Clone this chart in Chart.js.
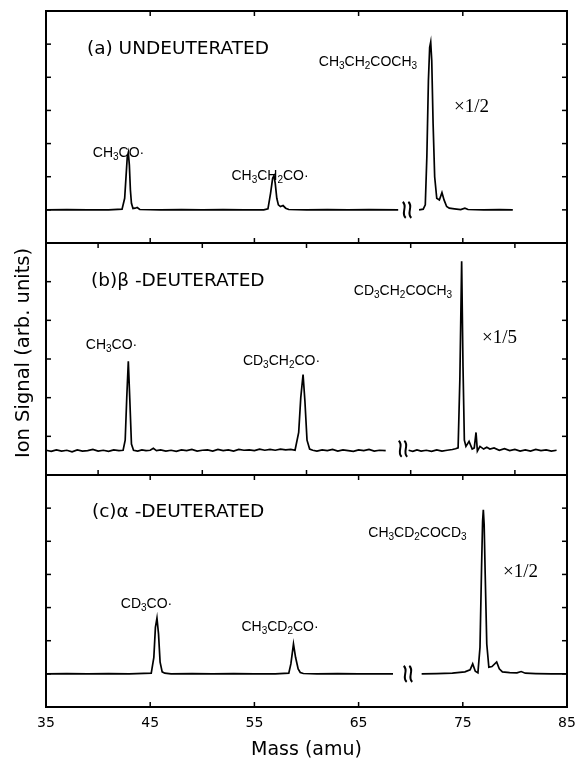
<!DOCTYPE html>
<html>
<head>
<meta charset="utf-8">
<script src="https://cdn.jsdelivr.net/npm/chart.js@4.4.0/dist/chart.umd.min.js"></script>
<style>
  html, body { margin: 0; padding: 0; background: #fff; }
  #wrap { width: 584px; height: 761px; }
</style>
</head>
<body>
<div id="wrap"><canvas id="massSpectraChart" width="584" height="761"></canvas></div>
<script>
// (a) undeuterated - masses (amu) and ion signal (tick units, baseline 0)
var massA = [
  35, 37, 39, 41, 42.3, 42.55, 42.7, 42.8, 42.9, 43.0,
  43.1, 43.2, 43.35, 43.55, 43.75, 44, 46, 48, 50, 52,
  54, 55.9, 56.3, 56.55, 56.75, 56.88, 57.0, 57.15, 57.3, 57.5,
  57.75, 58.0, 58.3, 60, 62, 64, 66, 68.8, 69.8, 70.8,
  71.2, 71.4, 71.55, 71.7, 71.82, 71.92, 72.02, 72.15, 72.3, 72.5,
  72.75, 73.0, 73.2, 73.45, 73.7, 74.2, 74.8, 75.2, 75.5, 77,
  78.5, 79.8
];
var ionA = [
  0, 0.01, 0, 0, 0.02, 0.35, 1.1, 1.6, 1.73, 1.35,
  0.6, 0.2, 0.04, 0.05, 0.07, 0.01, 0, 0.01, 0, 0.01,
  0, 0, 0.03, 0.5, 0.95, 1.03, 0.8, 0.35, 0.15, 0.1,
  0.13, 0.05, 0.01, 0, 0.01, 0, 0.01, 0, null, 0,
  0.02, 0.15, 1.6, 3.9, 4.9, 5.06, 4.5, 2.6, 1.0, 0.35,
  0.3, 0.52, 0.3, 0.1, 0.05, 0.03, 0.01, 0.05, 0.01, 0,
  0.01, 0
];

// (b) beta-deuterated
var massB = [
  35, 35.5, 36, 36.5, 37, 37.5, 38, 38.5, 39, 39.5,
  40, 40.5, 41, 41.5, 42, 42.4, 42.6, 42.75, 42.9, 43.05,
  43.2, 43.4, 43.8, 44.2, 44.6, 45, 45.3, 45.6, 46, 46.5,
  47, 47.5, 48, 48.5, 49, 49.5, 50, 50.5, 51, 51.5,
  52, 52.5, 53, 53.5, 54, 54.5, 55, 55.5, 56, 56.5,
  57, 57.5, 58, 58.5, 58.9, 59.25, 59.45, 59.67, 59.85, 60.05,
  60.3, 60.6, 61, 61.5, 62, 62.5, 63, 63.5, 64, 64.5,
  65, 65.5, 66, 66.5, 67, 67.6, 68.6, 69.8, 70.2, 70.6,
  71, 71.5, 72, 72.5, 73, 73.5, 74, 74.3, 74.55, 74.72,
  74.89, 75.02, 75.15, 75.3, 75.6, 75.9, 76.1, 76.27, 76.4, 76.65,
  77, 77.3, 77.6, 78, 78.5, 79, 79.5, 80, 80.5, 81,
  81.5, 82, 82.5, 83, 83.5, 84
];
var ionB = [
  -0.36, -0.39, -0.35, -0.38, -0.36, -0.40, -0.35, -0.38, -0.37, -0.34,
  -0.38, -0.36, -0.39, -0.35, -0.37, -0.36, -0.1, 1.0, 1.94, 0.9,
  -0.2, -0.36, -0.38, -0.35, -0.37, -0.36, -0.31, -0.37, -0.35, -0.38,
  -0.36, -0.39, -0.35, -0.37, -0.34, -0.38, -0.36, -0.35, -0.38, -0.34,
  -0.37, -0.35, -0.38, -0.34, -0.36, -0.35, -0.37, -0.33, -0.36, -0.34,
  -0.36, -0.33, -0.35, -0.34, -0.36, 0.1, 1.0, 1.6, 0.9, -0.1,
  -0.33, -0.36, -0.38, -0.35, -0.37, -0.34, -0.38, -0.35, -0.37, -0.39,
  -0.35, -0.37, -0.34, -0.38, -0.36, -0.37, null, -0.36, -0.39, -0.35,
  -0.38, -0.36, -0.39, -0.35, -0.38, -0.36, -0.34, -0.32, -0.30, 1.5,
  4.53, 1.8, -0.1, -0.26, -0.13, -0.33, -0.3, 0.1, -0.38, -0.26,
  -0.33, -0.28, -0.33, -0.30, -0.36, -0.32, -0.37, -0.34, -0.38, -0.35,
  -0.38, -0.34, -0.37, -0.35, -0.38, -0.36
];

// (c) alpha-deuterated
var massC = [
  35, 37, 39, 41, 43, 45.1, 45.35, 45.5, 45.65, 45.8,
  45.95, 46.15, 46.4, 47, 49, 51, 53, 55, 57, 58.3,
  58.5, 58.75, 58.95, 59.2, 59.4, 59.7, 61, 63, 65, 67,
  68.3, 69.7, 71.05, 72.5, 74, 75.2, 75.7, 75.95, 76.2, 76.45,
  76.65, 76.8, 76.9, 76.97, 77.05, 77.15, 77.3, 77.5, 77.8, 78.25,
  78.5, 78.8, 79.5, 80.2, 80.6, 81, 82, 83.5, 85
];
var ionC = [
  0, 0.01, 0, 0.01, 0, 0.02, 0.5, 1.4, 1.68, 1.2,
  0.35, 0.06, 0.02, 0, 0.01, 0, 0.01, 0, 0, 0.02,
  0.3, 0.9, 0.5, 0.15, 0.04, 0.01, 0, 0.01, 0, 0,
  0, null, 0, 0.01, 0.02, 0.06, 0.12, 0.3, 0.08, 0.03,
  0.8, 3.2, 4.6, 4.95, 4.5, 3.0, 0.9, 0.2, 0.22, 0.36,
  0.15, 0.06, 0.04, 0.03, 0.07, 0.02, 0.01, 0, 0
];

// tick marks inside each frame
var yTicksA = [0, 1, 2, 3, 4, 5];
var yTicksB = [0, 1, 2, 3, 4];
var yTicksC = [0, 1, 2, 3, 4, 5];
var xTicksAC = [45, 55, 65, 75];
var xTicksB = [40, 50, 60, 70, 80];

// axis break position (mass, level) per panel
var breakMass = [69.65, 69.26, 69.74];
var breakLevel = [0, -0.32, 0];

var panelTitles = ["(a) UNDEUTERATED", "(b)\u03b2 -DEUTERATED", "(c)\u03b1 -DEUTERATED"];
var scaleFactors = ["\u00d71/2", "\u00d71/5", "\u00d71/2"];

// peak labels: text, mass, level
var peakLabels = [
  [["CH3CO\u00b7", 41.96, 1.60], ["CH3CH2CO\u00b7", 56.5, 0.90], ["CH3CH2COCH3", 65.9, 4.34]],
  [["CH3CO\u00b7", 41.29, 2.25], ["CD3CH2CO\u00b7", 57.6, 1.84], ["CD3CH2COCH3", 69.26, 3.65]],
  [["CD3CO\u00b7", 44.65, 1.99], ["CH3CD2CO\u00b7", 57.46, 1.29], ["CH3CD2COCD3", 70.65, 4.13]]
];

var panels = [
  { axis: "yA", yTicks: yTicksA, xTicks: xTicksAC, titleAt: [38.93, 4.70], factorAt: [74.16, 2.95] },
  { axis: "yB", yTicks: yTicksB, xTicks: xTicksB, titleAt: [39.32, 3.89], factorAt: [76.84, 2.42] },
  { axis: "yC", yTicks: yTicksC, xTicks: xTicksAC, titleAt: [39.41, 4.73], factorAt: [78.86, 2.92] }
];

function toPoints(mass, ion) {
  return mass.map(function(m, i) { return { x: m, y: ion[i] }; });
}

function strokeLine(c, x1, y1, x2, y2) {
  c.beginPath();
  c.moveTo(x1, y1);
  c.lineTo(x2, y2);
  c.stroke();
}

// chemical formula with digits as subscripts
function drawFormula(c, text, px, py) {
  let parts = text.match(/\d+|\D+/g);
  let big = "14px 'Liberation Sans', Arial, sans-serif";
  let small = "10px 'Liberation Sans', Arial, sans-serif";
  let w = 0;
  parts.forEach(function(s) {
    c.font = /\d/.test(s) ? small : big;
    w += c.measureText(s).width;
  });
  let cx = px - w / 2;
  c.textAlign = "left";
  parts.forEach(function(s) {
    let sub = /\d/.test(s);
    c.font = sub ? small : big;
    c.fillText(s, cx, sub ? py + 3 : py);
    cx += c.measureText(s).width;
  });
}

function drawBreak(c, px, py) {
  c.lineWidth = 2;
  [-2.8, 2.8].forEach(function(dx) {
    let x = px + dx;
    c.beginPath();
    c.moveTo(x - 1.5, py - 8);
    c.bezierCurveTo(x + 4, py - 3.5, x - 4, py + 3.5, x + 1.5, py + 8);
    c.stroke();
  });
}

var framePlugin = {
  id: "panelFrames",
  afterDatasetsDraw: function(chart) {
    let c = chart.ctx;
    let area = chart.chartArea;
    let xs = chart.scales.x;
    c.save();
    c.strokeStyle = "#000";
    c.fillStyle = "#000";
    c.textBaseline = "alphabetic";

    panels.forEach(function(p, i) {
      let ys = chart.scales[p.axis];
      c.lineWidth = 2;
      c.strokeRect(area.left, ys.top, area.right - area.left, ys.bottom - ys.top);

      c.lineWidth = 1.5;
      p.yTicks.forEach(function(v) {
        let py = ys.getPixelForValue(v);
        strokeLine(c, area.left, py, area.left + 5, py);
        strokeLine(c, area.right - 5, py, area.right, py);
      });
      p.xTicks.forEach(function(m) {
        let px = xs.getPixelForValue(m);
        strokeLine(c, px, ys.top, px, ys.top + 5);
        strokeLine(c, px, ys.bottom - 5, px, ys.bottom);
      });

      drawBreak(c, xs.getPixelForValue(breakMass[i]), ys.getPixelForValue(breakLevel[i]));

      c.textAlign = "left";
      c.font = "18.5px 'DejaVu Sans', sans-serif";
      c.fillText(panelTitles[i], xs.getPixelForValue(p.titleAt[0]), ys.getPixelForValue(p.titleAt[1]));

      c.font = "19px 'Liberation Serif', 'Times New Roman', serif";
      c.fillText(scaleFactors[i], xs.getPixelForValue(p.factorAt[0]), ys.getPixelForValue(p.factorAt[1]));

      peakLabels[i].forEach(function(lb) {
        drawFormula(c, lb[0], xs.getPixelForValue(lb[1]), ys.getPixelForValue(lb[2]));
      });
    });

    // shared y title
    c.translate(29, (area.top + area.bottom) / 2 - 6);
    c.rotate(-Math.PI / 2);
    c.textAlign = "center";
    c.font = "19.5px 'DejaVu Sans', sans-serif";
    c.fillText("Ion Signal (arb. units)", 0, 0);
    c.restore();
  }
};

var lineStyle = { borderColor: "#000", borderWidth: 1.7, pointRadius: 0, tension: 0, spanGaps: false, fill: false };

let ctx = document.getElementById("massSpectraChart").getContext("2d");

// stacked y axes: the last one listed is placed on top
new Chart(ctx, {
  type: "line",
  data: {
    datasets: [
      Object.assign({ label: "undeuterated", data: toPoints(massA, ionA), yAxisID: "yA" }, lineStyle),
      Object.assign({ label: "beta-deuterated", data: toPoints(massB, ionB), yAxisID: "yB" }, lineStyle),
      Object.assign({ label: "alpha-deuterated", data: toPoints(massC, ionC), yAxisID: "yC" }, lineStyle)
    ]
  },
  options: {
    responsive: false,
    animation: false,
    layout: { padding: { left: 46, right: 17, top: 11, bottom: 0 } },
    plugins: {
      legend: { display: false },
      tooltip: { enabled: false }
    },
    scales: {
      x: {
        type: "linear",
        min: 35,
        max: 85,
        grid: { display: false, drawTicks: false },
        border: { display: false },
        ticks: { stepSize: 10, padding: 8, color: "#000", font: { family: "DejaVu Sans", size: 14 } },
        title: { display: true, text: "Mass (amu)", color: "#000", padding: { top: 0, bottom: 0 },
                 font: { family: "DejaVu Sans", size: 19 } },
        afterFit: function(scale) { scale.height = 54; }
      },
      yC: { type: "linear", min: -1, max: 6, display: false, position: "left", stack: "panels", stackWeight: 1 },
      yB: { type: "linear", min: -1, max: 5, display: false, position: "left", stack: "panels", stackWeight: 1 },
      yA: { type: "linear", min: -1, max: 6, display: false, position: "left", stack: "panels", stackWeight: 1 }
    }
  },
  plugins: [framePlugin]
});
</script>
</body>
</html>
